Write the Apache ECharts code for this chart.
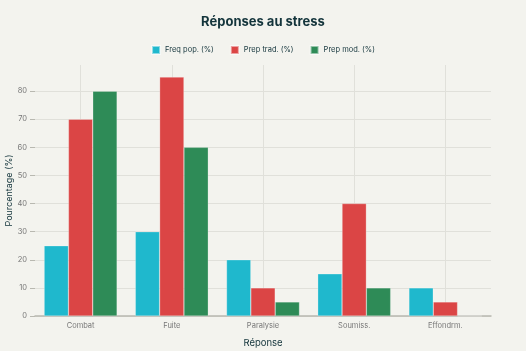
<!DOCTYPE html>
<html>
<head>
<meta charset="utf-8">
<script src="https://cdn.jsdelivr.net/npm/echarts@6/dist/echarts.min.js"></script>
<style>
  html, body { margin: 0; padding: 0; background: #f3f3ee; }
  #main { width: 526px; height: 351px; }
</style>
</head>
<body>
<div id="main"></div>
<script>
// categories and series values
var categories = ['Combat', 'Fuite', 'Paralysie', 'Soumiss.', 'Effondrm.'];
var freqPop = [25, 30, 20, 15, 10];
var prepTrad = [70, 85, 10, 40, 5];
var prepMod = [80, 60, 5, 10, 0];

var colors = ['#1FB8CD', '#DB4545', '#2E8B57'];
var font = 'Inter, Roboto, sans-serif';

var myChart = echarts.init(document.getElementById('main'));

function barSeries(name, data) {
    return {
        name: name,
        type: 'bar',
        data: data,
        barGap: '0%',
        barCategoryGap: '20%',
        itemStyle: { borderColor: 'rgba(255,255,255,0.5)', borderWidth: 0.5 }
    };
}

var option = {
    backgroundColor: '#f3f3ee',
    color: colors,
    textStyle: { fontFamily: font },
    title: {
        text: 'Réponses au stress',
        left: 'center',
        top: 11,
        textStyle: { fontSize: 13, fontWeight: 'bold', color: '#13343b', fontFamily: font }
    },
    legend: {
        top: 40,
        left: 'center',
        itemWidth: 8,
        itemHeight: 8,
        itemGap: 16,
        icon: 'rect',
        textStyle: { fontSize: 7.5, color: '#13343b', fontFamily: font },
        data: ['Freq pop. (%)', 'Prep trad. (%)', 'Prep mod. (%)']
    },
    grid: { left: 35, right: 35, top: 65, bottom: 35, outerBoundsMode: 'none' },
    xAxis: [{
        type: 'category',
        data: categories,
        name: 'Réponse',
        nameLocation: 'middle',
        nameGap: 22,
        nameTextStyle: { fontSize: 9.5, color: '#13343b' },
        axisLine: { lineStyle: { color: '#b8b8b0', width: 1.5 } },
        axisTick: { show: false },
        axisLabel: { fontSize: 7.5, color: '#777', margin: 6 },
        splitLine: { show: false }
    }, {
        // hidden value axis used only for the vertical grid lines at category centres
        type: 'value',
        position: 'bottom',
        min: 0,
        max: 10,
        interval: 1,
        axisLine: { show: false },
        axisTick: { show: false },
        axisLabel: { show: false },
        splitLine: {
            show: true,
            showMinLine: false,
            showMaxLine: false,
            lineStyle: { color: ['#e0e0da', 'transparent'], width: 1 }
        }
    }],
    yAxis: {
        type: 'value',
        min: 0,
        max: 89.3,
        interval: 10,
        name: 'Pourcentage (%)',
        nameLocation: 'middle',
        nameGap: 21,
        nameMoveOverlap: false,
        nameTextStyle: { fontSize: 9, color: '#13343b' },
        axisLine: { show: false },
        axisTick: { show: true, length: 5, lineStyle: { color: '#b8b8b0' } },
        axisLabel: {
            fontSize: 7.5, color: '#777', margin: 8,
            showMaxLabel: false,
            formatter: function (v) { return v % 10 === 0 ? v : ''; }
        },
        splitLine: { show: true, showMaxLine: false, lineStyle: { color: '#e0e0da', width: 1 } }
    },
    series: [
        barSeries('Freq pop. (%)', freqPop),
        barSeries('Prep trad. (%)', prepTrad),
        barSeries('Prep mod. (%)', prepMod)
    ]
};

myChart.setOption(option);
</script>
</body>
</html>
